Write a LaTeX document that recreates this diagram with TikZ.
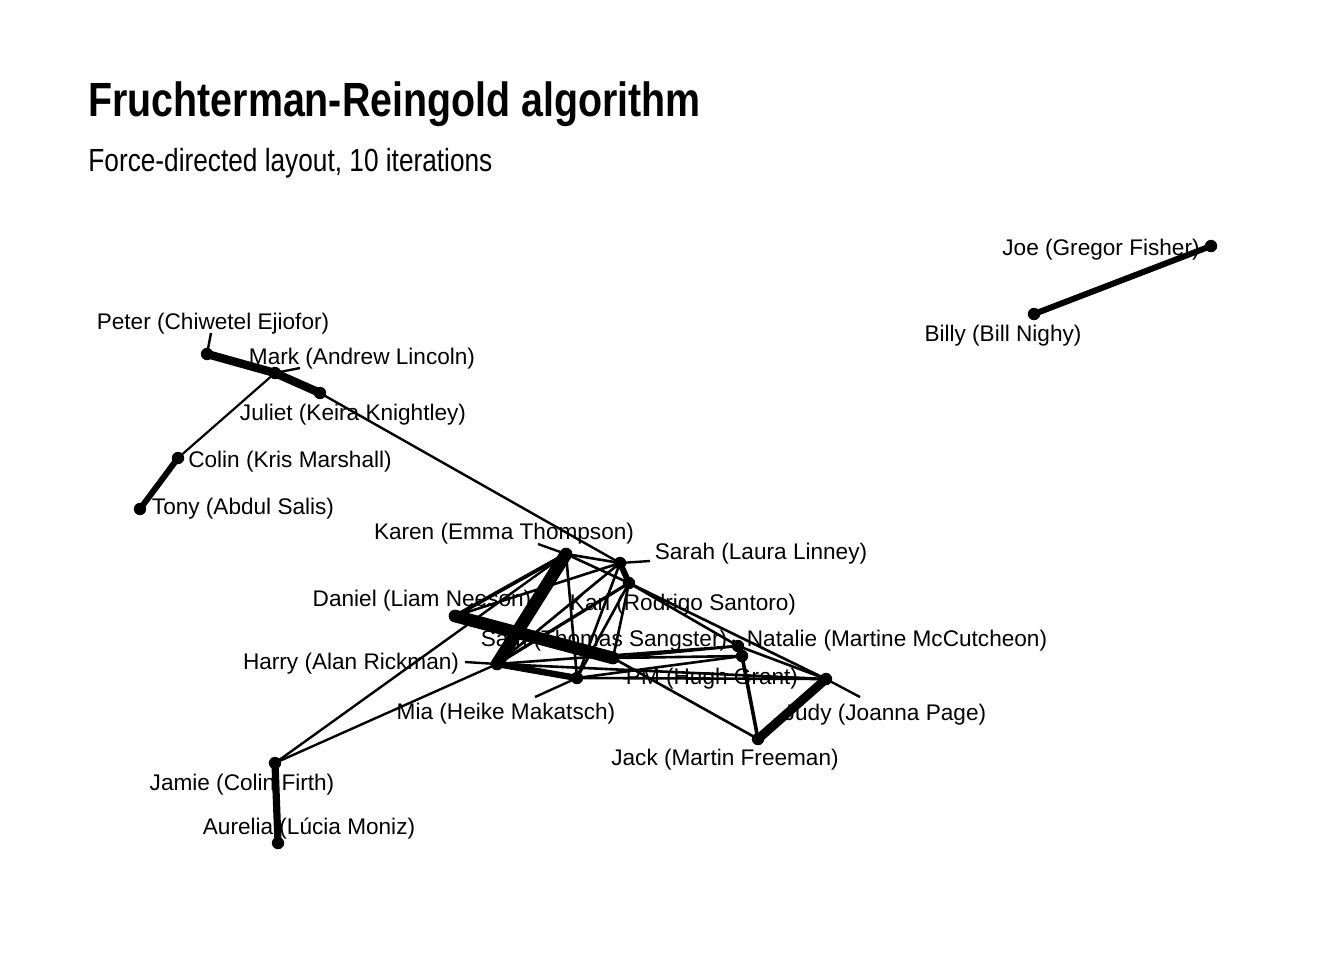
\documentclass[tikz,border=0pt]{standalone}
\usepackage{fontspec}
\setmainfont{Liberation Sans}
\newfontfamily\titlefont[FakeStretch=0.82]{Liberation Sans}
\begin{document}
\begin{tikzpicture}[x=0.5pt,y=-0.5pt,
  dot/.style={circle,fill=black,inner sep=0pt,minimum size=6.2pt},
  lbl/.style={inner sep=0pt,yshift=-1.5pt,font=\fontsize{11.3}{13}\selectfont},
  edge/.style={line width=#1,line cap=round},
  edge/.default=1.3pt,
  leader/.style={line width=1.2pt}]
\useasboundingbox (0,0) rectangle (1344,960);
\fill[white] (0,0) rectangle (1344,960);
% title
\node[anchor=base west,inner sep=0pt,font=\titlefont\bfseries\fontsize{24}{28}\selectfont] (title) at (88,116) {Fruchterman-Reingold algorithm};
\node[anchor=base west,inner sep=0pt,font=\titlefont\fontsize{16}{19}\selectfont] (subtitle) at (88,171) {Force-directed layout, 10 iterations};
% node positions
\coordinate (joe) at (1211,246);
\coordinate (billy) at (1034,314);
\coordinate (peter) at (207,354);
\coordinate (mark) at (275,373);
\coordinate (juliet) at (320,393);
\coordinate (colin) at (178,458);
\coordinate (tony) at (140,509);
\coordinate (karen) at (566,554);
\coordinate (sarah) at (620,563);
\coordinate (karl) at (629,583);
\coordinate (daniel) at (455,616);
\coordinate (sam) at (613,658);
\coordinate (harry) at (497,664);
\coordinate (mia) at (577,678);
\coordinate (natalie) at (738,646);
\coordinate (pm) at (742,656);
\coordinate (judy) at (826,679);
\coordinate (jack) at (758,739);
\coordinate (jamie) at (275,763);
\coordinate (aurelia) at (278,843);
% edges
\draw[edge=3pt] (joe) -- (billy);
\draw[edge=4.2pt] (peter) -- (mark);
\draw[edge=4.2pt] (mark) -- (juliet);
\draw[edge=1.1pt] (mark) -- (colin);
\draw[edge=3pt] (colin) -- (tony);
\draw[edge=1.2pt] (juliet) -- (sarah);
\draw[edge=3.6pt] (jamie) -- (aurelia);
\draw[edge=1.2pt] (jamie) -- (karen);
\draw[edge=1.2pt] (jamie) -- (harry);
\draw[edge=6.3pt] (karen) -- (harry);
\draw[edge=6.3pt] (daniel) -- (sam);
\draw[edge=3.2pt] (harry) -- (mia);
\draw[edge=3pt] (sarah) -- (karl);
\draw[edge] (karen) -- (sarah);
\draw[edge] (karen) -- (karl);
\draw[edge] (karen) -- (mia);
\draw[edge=1.9pt] (karen) -- (daniel);
\draw[edge] (sarah) -- (harry);
\draw[edge=1.6pt] (karl) -- (harry);
\draw[edge] (sarah) -- (mia);
\draw[edge] (karl) -- (mia);
\draw[edge] (karl) -- (sam);
\draw[edge] (daniel) -- (sarah);
\draw[edge=3.2pt] (natalie) -- (pm);
\draw[edge=4.5pt] (jack) -- (judy);
\draw[edge=1.8pt] (pm) -- (jack);
\draw[edge] (sam) -- (jack);
\draw[edge] (karl) -- (judy);
\draw[edge] (karl) -- (natalie);
\draw[edge] (natalie) -- (judy);
\draw[edge] (harry) -- (judy);
\draw[edge] (mia) -- (judy);
\draw[edge] (sam) -- (natalie);
\draw[edge] (harry) -- (natalie);
\draw[edge] (mia) -- (pm);
\draw[edge] (sam) -- (pm);
% dots
\foreach \n in {joe,billy,peter,mark,juliet,colin,tony,karen,sarah,karl,daniel,sam,harry,mia,natalie,pm,judy,jack,jamie,aurelia}
  \node[dot] (\n-d) at (\n) {};
% labels
\node[lbl] (joe-l) at (1101,247) {Joe (Gregor Fisher)};
\node[lbl] (billy-l) at (1003,333) {Billy (Bill Nighy)};
\node[lbl] (peter-l) at (213,321) {Peter (Chiwetel Ejiofor)};
\node[lbl] (mark-l) at (362,356) {Mark (Andrew Lincoln)};
\node[lbl] (juliet-l) at (353,412) {Juliet (Keira Knightley)};
\node[lbl] (colin-l) at (290,459) {Colin (Kris Marshall)};
\node[lbl] (tony-l) at (243,506) {Tony (Abdul Salis)};
\node[lbl] (karen-l) at (504,531) {Karen (Emma Thompson)};
\node[lbl] (sarah-l) at (761,551) {Sarah (Laura Linney)};
\node[lbl] (daniel-l) at (422,598) {Daniel (Liam Neeson)};
\node[lbl] (karl-l) at (683,602) {Karl (Rodrigo Santoro)};
\node[lbl] (sam-l) at (604,638) {Sam (Thomas Sangster)};
\node[lbl] (natalie-l) at (897,638) {Natalie (Martine McCutcheon)};
\node[lbl] (harry-l) at (351,661) {Harry (Alan Rickman)};
\node[lbl] (pm-l) at (712,676) {PM (Hugh Grant)};
\node[lbl] (mia-l) at (506,711) {Mia (Heike Makatsch)};
\node[lbl] (judy-l) at (885,712) {Judy (Joanna Page)};
\node[lbl] (jack-l) at (725,757) {Jack (Martin Freeman)};
\node[lbl] (jamie-l) at (242,782) {Jamie (Colin Firth)};
\node[lbl] (aurelia-l) at (309,826) {Aurelia (Lúcia Moniz)};
% leaders
\coordinate (peter-e) at (211,333);
\coordinate (mark-e) at (300,368);
\coordinate (karen-e) at (538,544);
\coordinate (sarah-e) at (650,561);
\coordinate (harry-e) at (465,662);
\coordinate (mia-e) at (535,697);
\coordinate (judy-e) at (860,697);
\coordinate (natalie-e) at (733,640);
\foreach \n in {peter,mark,karen,sarah,harry,mia,judy,natalie}
  \draw[leader] (\n-e) -- (\n);
\end{tikzpicture}
\end{document}
